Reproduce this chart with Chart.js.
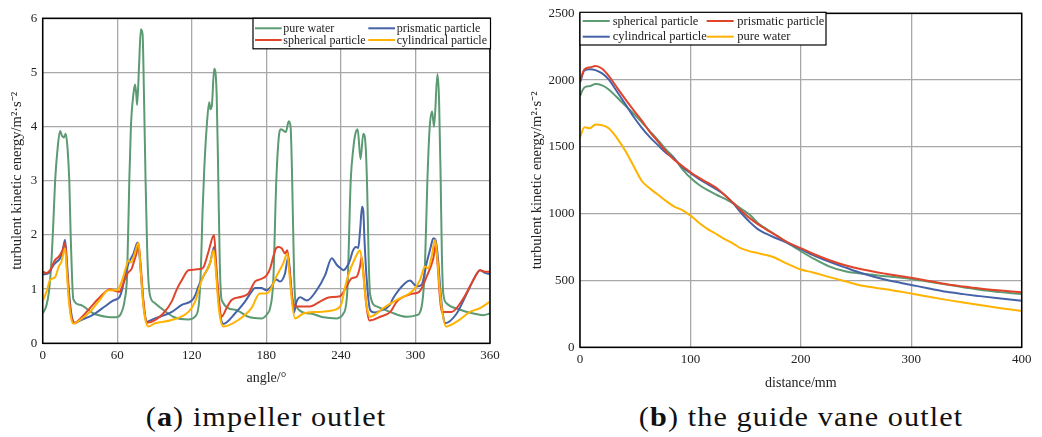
<!DOCTYPE html>
<html><head><meta charset="utf-8">
<script src="https://cdn.jsdelivr.net/npm/chart.js@4.4.1/dist/chart.umd.min.js"></script>
<style>
html,body{margin:0;padding:0;background:#fff;width:1042px;height:437px;overflow:hidden;font-family:"Liberation Serif",serif;}
#c1{position:absolute;left:0;top:0;}
#c2{position:absolute;left:520px;top:0;}
.cap{position:absolute;top:402px;font-family:"Liberation Serif",serif;font-size:28px;letter-spacing:1px;color:#111;white-space:nowrap;transform:translateX(-50%) scaleX(1.08);line-height:30px;}
</style></head><body>
<canvas id="c1" width="520" height="400" style="width:520px;height:400px"></canvas>
<canvas id="c2" width="522" height="400" style="width:522px;height:400px"></canvas>
<div class="cap" style="left:266px">(<b>a</b>) impeller outlet</div>
<div class="cap" style="left:801px">(<b>b</b>) the guide vane outlet</div>
<script>
// ---------- (a) impeller outlet ----------
const angleTicks = [0, 60, 120, 180, 240, 300, 360];
const waterAngle = [0,3,5,7,8.5,10,12,14,15.5,17,18.5,20,21.4,22.5,23.5,24.6,30,41,51,59,63,66,68,69.7,71,73,74.3,75.3,76,77.5,79,80.4,81.5,82.8,84,85,86.4,90.4,98,106,117,123,126,127.5,128.6,130,132,134,135,136.2,138,140,141.2,142.5,144,154.7,165.5,176.2,181,183,185.6,188,190,191.8,193.5,195.7,198,199.5,200.8,202.3,203.9,215,226,236.6,242,245.2,247.9,250,251.5,253.5,255.8,258,260,261.2,262.3,263.4,268.8,279.5,293,301,305,307.7,309.6,311.5,313.4,315,317.7,319,320.3,321.3,322.4,325,336,346.6,354.7,360];
const waterK = [0.55,0.7,0.95,1.5,2.2,3.0,3.6,3.92,3.83,3.8,3.87,3.6,3.0,2.0,1.3,0.82,0.71,0.55,0.49,0.48,0.55,0.8,1.3,3.0,4.0,4.6,4.78,4.6,4.4,5.1,5.8,5.7,4.6,3.0,1.8,1.2,0.88,0.74,0.6,0.48,0.44,0.5,0.8,1.5,2.4,3.2,4.0,4.45,4.32,4.4,5.07,4.6,3.2,1.5,0.8,0.62,0.49,0.46,0.55,0.65,1.17,3.0,3.8,3.95,3.93,3.9,4.1,4.0,3.0,1.3,0.68,0.55,0.48,0.46,0.55,0.98,3.0,3.6,3.85,3.95,3.4,3.87,3.6,2.8,1.6,0.92,0.68,0.58,0.49,0.52,0.68,1.48,3.0,4.0,4.28,4.0,4.97,4.5,3.0,1.6,0.92,0.74,0.62,0.55,0.52,0.55];

const prisAngle = [0,5,8,11,14,16,18,19.5,21,23,26,30,40,50,56,60,62,64,66,68,70.3,73,76.4,78,80,82,84,90.4,104,112,120,123,125.3,130.6,134.7,138,139.5,141.5,143.5,145.4,154.7,162.8,168,170.8,176,180,184,188,191,195,197.7,199,200.5,202.3,204,207.2,212.5,220.5,227.3,232.6,236.6,240,242,245,247.4,249.5,252,254,255.5,257,258,259,260.8,263.5,267,271.5,279.5,282,291.6,295.6,301,305,309,312,314.4,316,318,320,322,323.8,333.2,341.3,348,352,356,360];
const prisK = [1.27,1.3,1.42,1.5,1.57,1.7,1.91,1.5,1.0,0.55,0.37,0.42,0.52,0.68,0.78,0.82,0.86,1.0,1.22,1.4,1.54,1.65,1.86,1.6,1.0,0.55,0.4,0.46,0.58,0.71,0.79,0.9,1.05,1.29,1.48,1.78,1.4,0.8,0.45,0.36,0.55,0.77,0.95,1.02,1.02,0.98,1.05,1.18,1.14,1.29,1.6,1.3,0.9,0.57,0.75,0.85,0.79,0.98,1.26,1.57,1.45,1.38,1.35,1.42,1.54,1.7,1.78,1.76,2.1,2.52,2.45,1.9,1.17,0.62,0.57,0.6,0.71,0.83,1.11,1.16,1.05,1.08,1.48,1.75,1.94,1.92,1.6,1.0,0.55,0.37,0.55,0.92,1.23,1.35,1.3,1.28];

const spheAngle = [0,3,6,10,13,16,18,19.5,21,23,25.5,30,38,46,54.2,58,62,64,66,68,71.6,74,75.5,77,79,81,84,90.4,97,103.8,108,112,117.3,122,126.7,129.3,133.4,137.9,139.5,141.5,144,148,152,160,165.5,170.8,175,180,183,185.6,188,190,192.5,195,196.9,198.5,200.5,202.5,204.4,215,223.2,231,239.3,244.6,248.6,252.7,255.4,256.7,258.5,260.5,262.9,271.8,279.8,285,298.3,303,309,314.4,316.3,318,319.5,321.1,329.2,338.6,346.6,352,356,360];
const spheK = [1.32,1.3,1.35,1.54,1.6,1.72,1.85,1.4,0.9,0.5,0.38,0.45,0.65,0.85,1.0,0.97,0.95,1.05,1.17,1.28,1.38,1.55,1.66,1.85,1.4,0.8,0.38,0.43,0.55,0.77,1.0,1.17,1.35,1.36,1.37,1.4,1.69,2.0,1.5,0.9,0.49,0.65,0.8,0.86,0.92,1.14,1.18,1.25,1.38,1.6,1.76,1.78,1.75,1.66,1.72,1.4,0.9,0.7,0.68,0.68,0.77,0.85,0.87,1.05,1.2,1.23,1.42,1.6,1.2,0.7,0.42,0.49,0.58,0.77,0.92,0.95,1.23,1.57,1.82,1.4,0.9,0.58,0.58,0.83,1.17,1.35,1.32,1.32];

const cyliAngle = [0,3,6,9.9,13,15,18,19.5,21,23,24.7,30,38,46,52.8,60,62,64.9,67,69,71,74,77,79,81,83,85,90.4,103.8,117.3,122.7,128,134.7,137.6,139.5,141.5,143.5,145.4,157.4,168,174.7,180,183,188,193.7,196.9,198.5,200.5,203,209.8,222,236.6,240.6,243,246,251.4,255.4,257.5,259.5,261.5,263.4,274.2,285,298.3,303.7,307.7,310.4,313,315.8,317.5,319.5,321.5,324.6,333.2,344,352,360];
const cyliK = [0.78,0.95,1.17,1.22,1.42,1.5,1.75,1.3,0.8,0.45,0.36,0.43,0.58,0.8,0.98,0.98,1.05,1.23,1.4,1.53,1.49,1.65,1.85,1.3,0.7,0.4,0.31,0.37,0.43,0.58,0.77,1.17,1.48,1.72,1.3,0.7,0.4,0.31,0.43,0.65,0.92,0.92,0.98,1.23,1.48,1.66,1.3,0.8,0.46,0.55,0.58,0.63,0.74,1.0,1.26,1.57,1.72,1.4,0.9,0.6,0.49,0.65,0.8,0.98,1.17,1.42,1.38,1.6,1.91,1.6,1.0,0.6,0.31,0.4,0.58,0.65,0.77];

// ---------- (b) guide vane outlet ----------
const distance = [0,4,9,14,20,26,33,41,49,56,63,71,78,85,93,101,108,116,124,131,139,146,154,161,168,176,184,192,200,211,226,241,256,277,300,316,332,347,362,381,400];
const sphericalB = [1883,1945,1955,1970,1960,1930,1875,1809,1745,1684,1620,1547,1480,1420,1330,1261,1215,1174,1140,1112,1075,1037,990,930,890,848,805,760,720,666,604,567,550,532,512,490,470,450,430,413,398];
const prismaticB = [1995,2080,2095,2105,2085,2032,1950,1858,1770,1696,1615,1535,1465,1405,1355,1305,1268,1230,1190,1140,1080,1022,965,922,885,845,805,770,742,700,652,612,582,550,520,497,472,455,440,425,412];
const cylindricalB = [1982,2072,2082,2075,2050,2005,1920,1821,1720,1642,1575,1510,1455,1415,1345,1298,1258,1219,1180,1140,1075,1005,935,885,852,822,795,765,735,690,640,595,552,505,467,440,415,398,383,365,348];
const waterB = [1572,1647,1640,1668,1662,1640,1572,1472,1350,1245,1190,1140,1095,1055,1025,980,930,882,845,810,775,740,718,705,692,672,640,610,582,560,525,492,460,435,402,378,355,335,316,293,272];
const distTicks = [0, 100, 200, 300, 400];

const GREEN = '#5b9a72', BLUE = '#4563a8', RED = '#e0452c', YELLOW = '#ffb300';
const FONT = '"Liberation Serif", serif';

function build() {
Chart.defaults.font.family = FONT;
Chart.defaults.color = '#222';

const pts = (xs, ys) => xs.map((x, i) => ({x: x, y: ys[i]}));
const ds = (label, xs, ys, color) => ({label, data: pts(xs, ys), borderColor: color, backgroundColor: color,
  borderWidth: 2, pointRadius: 0, fill: false, cubicInterpolationMode: 'monotone'});

const frameLegend = {
  id: 'frameLegend',
  afterDatasetsDraw(chart, args, o) {
    const ctx = chart.ctx, a = chart.chartArea;
    ctx.save();
    ctx.strokeStyle = '#000'; ctx.lineWidth = 1.5;
    ctx.strokeRect(a.left, a.top, a.right - a.left, a.bottom - a.top);
    const b = o.box;
    ctx.fillStyle = '#fff'; ctx.fillRect(b.x, b.y, b.w, b.h);
    ctx.lineWidth = 1.2; ctx.strokeRect(b.x, b.y, b.w, b.h);
    ctx.font = o.fontSize + 'px ' + FONT; ctx.textBaseline = 'middle'; ctx.textAlign = 'left';
    o.items.forEach(it => {
      const d = chart.data.datasets[it.ds];
      ctx.strokeStyle = d.borderColor; ctx.lineWidth = 2;
      ctx.beginPath(); ctx.moveTo(it.lx, it.y); ctx.lineTo(it.lx + o.lineLen, it.y); ctx.stroke();
      ctx.fillStyle = '#222'; ctx.fillText(d.label, it.tx, it.y + 0.5);
    });
    ctx.restore();
  }
};

const GRID = {color: '#a8a8a8', lineWidth: 1.3, drawTicks: false};

function scales(xmin, xmax, xticks, xtitle, ymin, ymax, ystep, yw, xh, ytp) {
  return {
    x: {type: 'linear', min: xmin, max: xmax, grid: GRID, border: {display: false},
      afterBuildTicks: s => { s.ticks = xticks.map(v => ({value: v})); },
      ticks: {padding: 4, font: {size: 13}, maxRotation: 0, autoSkip: false, callback: v => String(v)},
      title: {display: true, text: xtitle, font: {size: 14}, padding: 0},
      afterFit: s => { s.height = xh; }},
    y: {type: 'linear', min: ymin, max: ymax, grid: GRID, border: {display: false},
      ticks: {stepSize: ystep, padding: 5.5, font: {size: 13}, callback: v => String(v)},
      title: {display: true, text: 'turbulent kinetic energy/m²·s⁻²', font: {size: 14.5}, padding: {top: ytp, bottom: 0}},
      afterFit: s => { s.width = yw; }}
  };
}

new Chart(document.getElementById('c1'), {
  type: 'line',
  data: {datasets: [
    ds('cylindrical particle', cyliAngle, cyliK, YELLOW),
    ds('spherical particle', spheAngle, spheK, RED),
    ds('prismatic particle', prisAngle, prisK, BLUE),
    ds('pure water', waterAngle, waterK, GREEN)
  ]},
  options: {
    responsive: false, animation: false, devicePixelRatio: 1,
    layout: {padding: {left: 0, right: 30, top: 18.3, bottom: 13.6}},
    scales: scales(0, 360, angleTicks, 'angle/°', 0, 6, 1, 42.7, 43.1, 8.3),
    plugins: {legend: {display: false}, tooltip: {enabled: false},
      frameLegend: {box: {x: 253, y: 18.3, w: 237.5, h: 30.5}, fontSize: 12, lineLen: 26.7, items: [
        {ds: 3, lx: 255, tx: 283.3, y: 28.3}, {ds: 2, lx: 368.3, tx: 396.7, y: 28.3},
        {ds: 1, lx: 255, tx: 283.3, y: 40}, {ds: 0, lx: 368.3, tx: 396.7, y: 40}]}}
  },
  plugins: [frameLegend]
});

new Chart(document.getElementById('c2'), {
  type: 'line',
  data: {datasets: [
    ds('pure water', distance, waterB, YELLOW),
    ds('prismatic particle', distance, prismaticB, RED),
    ds('cylindrical particle', distance, cylindricalB, BLUE),
    ds('spherical particle', distance, sphericalB, GREEN)
  ]},
  options: {
    responsive: false, animation: false, devicePixelRatio: 1,
    layout: {padding: {left: 0, right: 20.3, top: 12.3, bottom: 8.6}},
    scales: scales(0, 400, distTicks, 'distance/mm', 0, 2500, 500, 60, 44.1, 8.3),
    plugins: {legend: {display: false}, tooltip: {enabled: false},
      frameLegend: {box: {x: 60, y: 12.3, w: 246, h: 32.7}, fontSize: 12.5, lineLen: 27, items: [
        {ds: 3, lx: 62.7, tx: 92.7, y: 21}, {ds: 1, lx: 186.7, tx: 217.3, y: 21},
        {ds: 2, lx: 62.7, tx: 92.7, y: 36.7}, {ds: 0, lx: 186.7, tx: 217.3, y: 36.7}]}}
  },
  plugins: [frameLegend]
});
}

Promise.all([
  document.fonts.load('13px "Liberation Serif"'),
  document.fonts.load('bold 13px "Liberation Serif"')
]).then(build, build);
</script>
</body></html>
